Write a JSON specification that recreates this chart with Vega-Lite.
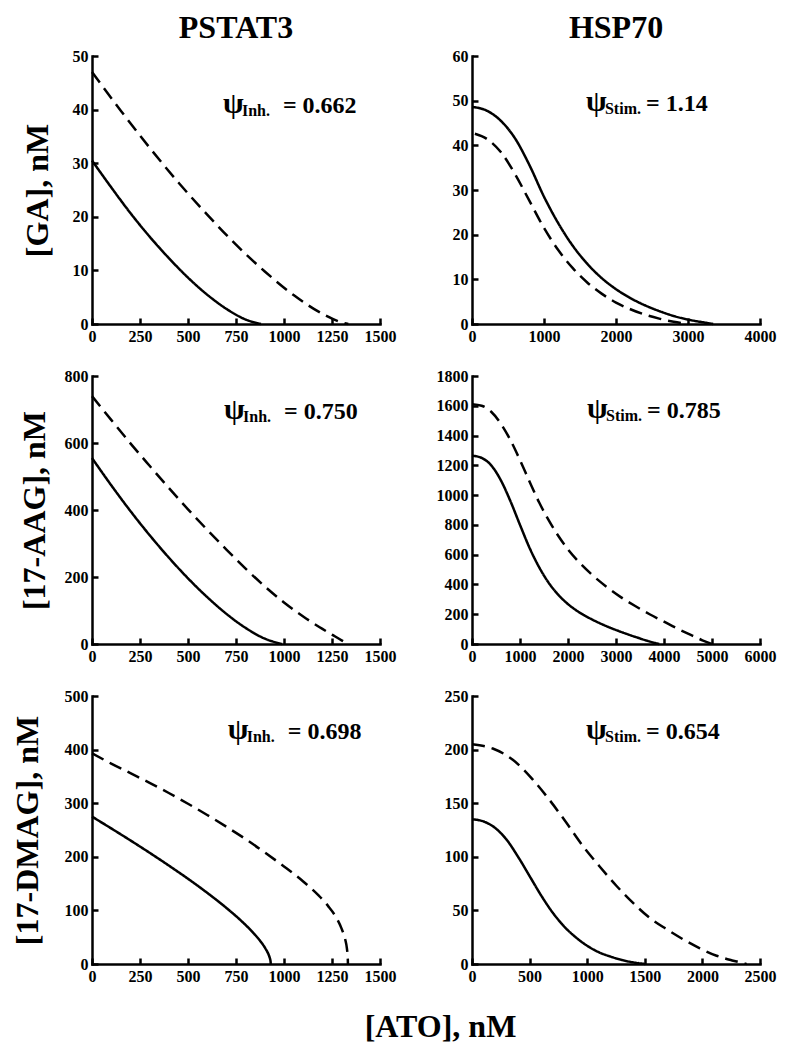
{
  "$schema": "https://vega.github.io/schema/vega-lite/v6.json",
  "padding": {"left": 11, "top": 12, "right": 5, "bottom": 5},
  "background": "white",
  "bounds": "flush",
  "columns": 2,
  "spacing": {"row": 52, "column": 92},
  "title": {"text": "[ATO], nM", "orient": "bottom", "anchor": "middle", "offset": 28, "dx": 47},
  "datasets": {
    "ga_pstat3": [
      {"ato": 0, "conc": 30.5, "series": "S1"}, {"ato": 100, "conc": 25.5, "series": "S1"}, {"ato": 200, "conc": 20.7, "series": "S1"}, {"ato": 300, "conc": 16.3, "series": "S1"}, {"ato": 400, "conc": 12.3, "series": "S1"}, {"ato": 500, "conc": 8.65, "series": "S1"}, {"ato": 600, "conc": 5.47, "series": "S1"}, {"ato": 700, "conc": 2.82, "series": "S1"}, {"ato": 800, "conc": 0.84, "series": "S1"}, {"ato": 880, "conc": 0, "series": "S1"},
      {"ato": 0, "conc": 47, "series": "S2"}, {"ato": 150, "conc": 39.8, "series": "S2"}, {"ato": 300, "conc": 32.9, "series": "S2"}, {"ato": 450, "conc": 26.4, "series": "S2"}, {"ato": 600, "conc": 20.4, "series": "S2"}, {"ato": 750, "conc": 14.8, "series": "S2"}, {"ato": 900, "conc": 9.8, "series": "S2"}, {"ato": 1050, "conc": 5.4, "series": "S2"}, {"ato": 1200, "conc": 1.9, "series": "S2"}, {"ato": 1300, "conc": 0.3, "series": "S2"}, {"ato": 1335, "conc": 0, "series": "S2"}
    ],
    "ga_hsp70": [
      {"ato": 0, "conc": 48.6, "series": "S1"}, {"ato": 200, "conc": 47.8, "series": "S1"}, {"ato": 400, "conc": 45.5, "series": "S1"}, {"ato": 600, "conc": 41.5, "series": "S1"}, {"ato": 800, "conc": 35.5, "series": "S1"}, {"ato": 1000, "conc": 28.5, "series": "S1"}, {"ato": 1200, "conc": 22.5, "series": "S1"}, {"ato": 1400, "conc": 17.5, "series": "S1"}, {"ato": 1600, "conc": 13.5, "series": "S1"}, {"ato": 1800, "conc": 10.3, "series": "S1"}, {"ato": 2000, "conc": 7.8, "series": "S1"}, {"ato": 2200, "conc": 5.8, "series": "S1"}, {"ato": 2400, "conc": 4.2, "series": "S1"}, {"ato": 2600, "conc": 2.9, "series": "S1"}, {"ato": 2800, "conc": 1.8, "series": "S1"}, {"ato": 3000, "conc": 1.0, "series": "S1"}, {"ato": 3200, "conc": 0.4, "series": "S1"}, {"ato": 3350, "conc": 0, "series": "S1"},
      {"ato": 40, "conc": 42.6, "series": "S2"}, {"ato": 200, "conc": 41.5, "series": "S2"}, {"ato": 400, "conc": 38.5, "series": "S2"}, {"ato": 600, "conc": 33.5, "series": "S2"}, {"ato": 800, "conc": 27.5, "series": "S2"}, {"ato": 1000, "conc": 21.5, "series": "S2"}, {"ato": 1200, "conc": 16.5, "series": "S2"}, {"ato": 1400, "conc": 12.5, "series": "S2"}, {"ato": 1600, "conc": 9.3, "series": "S2"}, {"ato": 1800, "conc": 6.8, "series": "S2"}, {"ato": 2000, "conc": 4.8, "series": "S2"}, {"ato": 2200, "conc": 3.3, "series": "S2"}, {"ato": 2400, "conc": 2.1, "series": "S2"}, {"ato": 2600, "conc": 1.2, "series": "S2"}, {"ato": 2800, "conc": 0.5, "series": "S2"}, {"ato": 3000, "conc": 0, "series": "S2"}
    ],
    "aag_pstat3": [
      {"ato": 0, "conc": 555, "series": "S1"}, {"ato": 100, "conc": 474, "series": "S1"}, {"ato": 200, "conc": 397, "series": "S1"}, {"ato": 300, "conc": 325, "series": "S1"}, {"ato": 400, "conc": 258, "series": "S1"}, {"ato": 500, "conc": 196, "series": "S1"}, {"ato": 600, "conc": 140, "series": "S1"}, {"ato": 700, "conc": 90, "series": "S1"}, {"ato": 800, "conc": 48, "series": "S1"}, {"ato": 900, "conc": 16, "series": "S1"}, {"ato": 990, "conc": 0, "series": "S1"},
      {"ato": 0, "conc": 740, "series": "S2"}, {"ato": 100, "conc": 669, "series": "S2"}, {"ato": 200, "conc": 599, "series": "S2"}, {"ato": 300, "conc": 532, "series": "S2"}, {"ato": 400, "conc": 466, "series": "S2"}, {"ato": 500, "conc": 402, "series": "S2"}, {"ato": 600, "conc": 341, "series": "S2"}, {"ato": 700, "conc": 282, "series": "S2"}, {"ato": 800, "conc": 225, "series": "S2"}, {"ato": 900, "conc": 172, "series": "S2"}, {"ato": 1000, "conc": 124, "series": "S2"}, {"ato": 1100, "conc": 82, "series": "S2"}, {"ato": 1200, "conc": 45, "series": "S2"}, {"ato": 1250, "conc": 28, "series": "S2"}, {"ato": 1300, "conc": 11, "series": "S2"}, {"ato": 1335, "conc": 0, "series": "S2"}
    ],
    "aag_hsp70": [
      {"ato": 0, "conc": 1265, "series": "S1"}, {"ato": 200, "conc": 1250, "series": "S1"}, {"ato": 400, "conc": 1200, "series": "S1"}, {"ato": 600, "conc": 1100, "series": "S1"}, {"ato": 800, "conc": 960, "series": "S1"}, {"ato": 1000, "conc": 800, "series": "S1"}, {"ato": 1200, "conc": 645, "series": "S1"}, {"ato": 1400, "conc": 515, "series": "S1"}, {"ato": 1600, "conc": 410, "series": "S1"}, {"ato": 1800, "conc": 330, "series": "S1"}, {"ato": 2000, "conc": 268, "series": "S1"}, {"ato": 2200, "conc": 220, "series": "S1"}, {"ato": 2500, "conc": 165, "series": "S1"}, {"ato": 2800, "conc": 120, "series": "S1"}, {"ato": 3100, "conc": 82, "series": "S1"}, {"ato": 3400, "conc": 48, "series": "S1"}, {"ato": 3700, "conc": 17, "series": "S1"}, {"ato": 3900, "conc": 0, "series": "S1"},
      {"ato": 0, "conc": 1610, "series": "S2"}, {"ato": 200, "conc": 1600, "series": "S2"}, {"ato": 400, "conc": 1560, "series": "S2"}, {"ato": 600, "conc": 1480, "series": "S2"}, {"ato": 800, "conc": 1370, "series": "S2"}, {"ato": 1000, "conc": 1235, "series": "S2"}, {"ato": 1200, "conc": 1090, "series": "S2"}, {"ato": 1400, "conc": 950, "series": "S2"}, {"ato": 1600, "conc": 830, "series": "S2"}, {"ato": 1800, "conc": 725, "series": "S2"}, {"ato": 2000, "conc": 635, "series": "S2"}, {"ato": 2200, "conc": 560, "series": "S2"}, {"ato": 2500, "conc": 465, "series": "S2"}, {"ato": 2800, "conc": 385, "series": "S2"}, {"ato": 3100, "conc": 315, "series": "S2"}, {"ato": 3400, "conc": 255, "series": "S2"}, {"ato": 3700, "conc": 200, "series": "S2"}, {"ato": 4000, "conc": 150, "series": "S2"}, {"ato": 4300, "conc": 100, "series": "S2"}, {"ato": 4600, "conc": 55, "series": "S2"}, {"ato": 4800, "conc": 25, "series": "S2"}, {"ato": 5000, "conc": 0, "series": "S2"}
    ],
    "dmag_pstat3": [
      {"ato": 0, "conc": 275, "series": "S1"}, {"ato": 100, "conc": 253, "series": "S1"}, {"ato": 200, "conc": 230.6, "series": "S1"}, {"ato": 300, "conc": 207.5, "series": "S1"}, {"ato": 400, "conc": 183.7, "series": "S1"}, {"ato": 500, "conc": 159, "series": "S1"}, {"ato": 600, "conc": 132.8, "series": "S1"}, {"ato": 700, "conc": 104.6, "series": "S1"}, {"ato": 780, "conc": 79.6, "series": "S1"}, {"ato": 840, "conc": 58.1, "series": "S1"}, {"ato": 880, "conc": 41.2, "series": "S1"}, {"ato": 905, "conc": 27.9, "series": "S1"}, {"ato": 920, "conc": 17.3, "series": "S1"}, {"ato": 927, "conc": 10.1, "series": "S1"}, {"ato": 930, "conc": 4.9, "series": "S1"}, {"ato": 931, "conc": 0, "series": "S1"},
      {"ato": 0, "conc": 393, "series": "S2"}, {"ato": 100, "conc": 374, "series": "S2"}, {"ato": 200, "conc": 356, "series": "S2"}, {"ato": 300, "conc": 338, "series": "S2"}, {"ato": 400, "conc": 319, "series": "S2"}, {"ato": 500, "conc": 299, "series": "S2"}, {"ato": 600, "conc": 278, "series": "S2"}, {"ato": 700, "conc": 256, "series": "S2"}, {"ato": 800, "conc": 233, "series": "S2"}, {"ato": 900, "conc": 208, "series": "S2"}, {"ato": 1000, "conc": 182, "series": "S2"}, {"ato": 1100, "conc": 154, "series": "S2"}, {"ato": 1180, "conc": 128, "series": "S2"}, {"ato": 1230, "conc": 108, "series": "S2"}, {"ato": 1270, "conc": 88, "series": "S2"}, {"ato": 1300, "conc": 66, "series": "S2"}, {"ato": 1318, "conc": 47, "series": "S2"}, {"ato": 1328, "conc": 28, "series": "S2"}, {"ato": 1332, "conc": 12, "series": "S2"}, {"ato": 1333, "conc": 0, "series": "S2"}
    ],
    "dmag_hsp70": [
      {"ato": 0, "conc": 135, "series": "S1"}, {"ato": 100, "conc": 133, "series": "S1"}, {"ato": 200, "conc": 127, "series": "S1"}, {"ato": 300, "conc": 116, "series": "S1"}, {"ato": 400, "conc": 100, "series": "S1"}, {"ato": 500, "conc": 82, "series": "S1"}, {"ato": 600, "conc": 64, "series": "S1"}, {"ato": 700, "conc": 48, "series": "S1"}, {"ato": 800, "conc": 35, "series": "S1"}, {"ato": 900, "conc": 25, "series": "S1"}, {"ato": 1000, "conc": 17, "series": "S1"}, {"ato": 1100, "conc": 11, "series": "S1"}, {"ato": 1200, "conc": 7, "series": "S1"}, {"ato": 1300, "conc": 3.8, "series": "S1"}, {"ato": 1400, "conc": 1.5, "series": "S1"}, {"ato": 1505, "conc": 0, "series": "S1"},
      {"ato": 0, "conc": 205, "series": "S2"}, {"ato": 180, "conc": 201, "series": "S2"}, {"ato": 354, "conc": 190.5, "series": "S2"}, {"ato": 528, "conc": 172, "series": "S2"}, {"ato": 673, "conc": 153, "series": "S2"}, {"ato": 818, "conc": 132, "series": "S2"}, {"ato": 963, "conc": 110, "series": "S2"}, {"ato": 1108, "conc": 91, "series": "S2"}, {"ato": 1253, "conc": 73, "series": "S2"}, {"ato": 1398, "conc": 57, "series": "S2"}, {"ato": 1543, "conc": 43, "series": "S2"}, {"ato": 1688, "conc": 32.5, "series": "S2"}, {"ato": 1833, "conc": 23, "series": "S2"}, {"ato": 1978, "conc": 14.6, "series": "S2"}, {"ato": 2123, "conc": 7.7, "series": "S2"}, {"ato": 2268, "conc": 3.1, "series": "S2"}, {"ato": 2384, "conc": 0, "series": "S2"}
    ]
  },
  "concat": [
    {
      "width": 288, "height": 268,
      "title": {"text": "PSTAT3", "frame": "group", "anchor": "middle", "offset": 3},
      "layer": [
        {"data": {"name": "ga_pstat3"},
         "mark": {"type": "line", "interpolate": "monotone", "strokeWidth": 2.5, "color": "black"},
         "encoding": {
           "x": {"field": "ato", "type": "quantitative", "scale": {"domain": [0, 1500], "nice": false}, "axis": {"title": null, "values": [0, 250, 500, 750, 1000, 1250, 1500], "tickCount": 20, "format": "d", "labelOverlap": false}},
           "y": {"field": "conc", "type": "quantitative", "scale": {"domain": [0, 50], "nice": false}, "axis": {"title": "[GA], nM", "titlePadding": 18, "values": [0, 10, 20, 30, 40, 50], "tickCount": 20, "format": "d", "labelOverlap": false}},
           "strokeDash": {"field": "series", "type": "nominal", "scale": {"domain": ["S1", "S2"], "range": [[1, 0], [13, 7]]}, "legend": null}}},
        {"data": {"values": [{"ato": 682, "conc": 39.4, "sym": "ψ", "sub": "Inh.", "val": "= 0.662"}]},
         "layer": [
           {"mark": {"type": "text", "align": "left", "baseline": "alphabetic", "fontSize": 30}, "encoding": {"x": {"field": "ato", "type": "quantitative"}, "y": {"field": "conc", "type": "quantitative"}, "text": {"field": "sym"}}},
           {"mark": {"type": "text", "align": "left", "baseline": "alphabetic", "fontSize": 16, "dx": 19, "dy": 3}, "encoding": {"x": {"field": "ato", "type": "quantitative"}, "y": {"field": "conc", "type": "quantitative"}, "text": {"field": "sub"}}},
           {"mark": {"type": "text", "align": "left", "baseline": "alphabetic", "fontSize": 24, "dx": 60}, "encoding": {"x": {"field": "ato", "type": "quantitative"}, "y": {"field": "conc", "type": "quantitative"}, "text": {"field": "val"}}}
         ]}
      ]
    },
    {
      "width": 288, "height": 268,
      "title": {"text": "HSP70", "frame": "group", "anchor": "middle", "offset": 3},
      "layer": [
        {"data": {"name": "ga_hsp70"},
         "mark": {"type": "line", "interpolate": "monotone", "strokeWidth": 2.5, "color": "black"},
         "encoding": {
           "x": {"field": "ato", "type": "quantitative", "scale": {"domain": [0, 4000], "nice": false}, "axis": {"title": null, "values": [0, 1000, 2000, 3000, 4000], "tickCount": 20, "format": "d", "labelOverlap": false}},
           "y": {"field": "conc", "type": "quantitative", "scale": {"domain": [0, 60], "nice": false}, "axis": {"title": null, "values": [0, 10, 20, 30, 40, 50, 60], "tickCount": 20, "format": "d", "labelOverlap": false}},
           "strokeDash": {"field": "series", "type": "nominal", "scale": {"domain": ["S1", "S2"], "range": [[1, 0], [13, 7]]}, "legend": null}}},
        {"data": {"values": [{"ato": 1583, "conc": 47.7, "sym": "ψ", "sub": "Stim.", "val": "= 1.14"}]},
         "layer": [
           {"mark": {"type": "text", "align": "left", "baseline": "alphabetic", "fontSize": 30}, "encoding": {"x": {"field": "ato", "type": "quantitative"}, "y": {"field": "conc", "type": "quantitative"}, "text": {"field": "sym"}}},
           {"mark": {"type": "text", "align": "left", "baseline": "alphabetic", "fontSize": 16, "dx": 19, "dy": 3}, "encoding": {"x": {"field": "ato", "type": "quantitative"}, "y": {"field": "conc", "type": "quantitative"}, "text": {"field": "sub"}}},
           {"mark": {"type": "text", "align": "left", "baseline": "alphabetic", "fontSize": 24, "dx": 60}, "encoding": {"x": {"field": "ato", "type": "quantitative"}, "y": {"field": "conc", "type": "quantitative"}, "text": {"field": "val"}}}
         ]}
      ]
    },
    {
      "width": 288, "height": 268,
      "layer": [
        {"data": {"name": "aag_pstat3"},
         "mark": {"type": "line", "interpolate": "monotone", "strokeWidth": 2.5, "color": "black"},
         "encoding": {
           "x": {"field": "ato", "type": "quantitative", "scale": {"domain": [0, 1500], "nice": false}, "axis": {"title": null, "values": [0, 250, 500, 750, 1000, 1250, 1500], "tickCount": 20, "format": "d", "labelOverlap": false}},
           "y": {"field": "conc", "type": "quantitative", "scale": {"domain": [0, 800], "nice": false}, "axis": {"title": "[17-AAG], nM", "titlePadding": 13, "values": [0, 200, 400, 600, 800], "tickCount": 20, "format": "d", "labelOverlap": false}},
           "strokeDash": {"field": "series", "type": "nominal", "scale": {"domain": ["S1", "S2"], "range": [[1, 0], [13, 7]]}, "legend": null}}},
        {"data": {"values": [{"ato": 688, "conc": 672, "sym": "ψ", "sub": "Inh.", "val": "= 0.750"}]},
         "layer": [
           {"mark": {"type": "text", "align": "left", "baseline": "alphabetic", "fontSize": 30}, "encoding": {"x": {"field": "ato", "type": "quantitative"}, "y": {"field": "conc", "type": "quantitative"}, "text": {"field": "sym"}}},
           {"mark": {"type": "text", "align": "left", "baseline": "alphabetic", "fontSize": 16, "dx": 19, "dy": 3}, "encoding": {"x": {"field": "ato", "type": "quantitative"}, "y": {"field": "conc", "type": "quantitative"}, "text": {"field": "sub"}}},
           {"mark": {"type": "text", "align": "left", "baseline": "alphabetic", "fontSize": 24, "dx": 60}, "encoding": {"x": {"field": "ato", "type": "quantitative"}, "y": {"field": "conc", "type": "quantitative"}, "text": {"field": "val"}}}
         ]}
      ]
    },
    {
      "width": 288, "height": 268,
      "layer": [
        {"data": {"name": "aag_hsp70"},
         "mark": {"type": "line", "interpolate": "monotone", "strokeWidth": 2.5, "color": "black"},
         "encoding": {
           "x": {"field": "ato", "type": "quantitative", "scale": {"domain": [0, 6000], "nice": false}, "axis": {"title": null, "values": [0, 1000, 2000, 3000, 4000, 5000, 6000], "tickCount": 20, "format": "d", "labelOverlap": false}},
           "y": {"field": "conc", "type": "quantitative", "scale": {"domain": [0, 1800], "nice": false}, "axis": {"title": null, "values": [0, 200, 400, 600, 800, 1000, 1200, 1400, 1600, 1800], "tickCount": 20, "format": "d", "labelOverlap": false}},
           "strokeDash": {"field": "series", "type": "nominal", "scale": {"domain": ["S1", "S2"], "range": [[1, 0], [13, 7]]}, "legend": null}}},
        {"data": {"values": [{"ato": 2396, "conc": 1518, "sym": "ψ", "sub": "Stim.", "val": "= 0.785"}]},
         "layer": [
           {"mark": {"type": "text", "align": "left", "baseline": "alphabetic", "fontSize": 30}, "encoding": {"x": {"field": "ato", "type": "quantitative"}, "y": {"field": "conc", "type": "quantitative"}, "text": {"field": "sym"}}},
           {"mark": {"type": "text", "align": "left", "baseline": "alphabetic", "fontSize": 16, "dx": 19, "dy": 3}, "encoding": {"x": {"field": "ato", "type": "quantitative"}, "y": {"field": "conc", "type": "quantitative"}, "text": {"field": "sub"}}},
           {"mark": {"type": "text", "align": "left", "baseline": "alphabetic", "fontSize": 24, "dx": 60}, "encoding": {"x": {"field": "ato", "type": "quantitative"}, "y": {"field": "conc", "type": "quantitative"}, "text": {"field": "val"}}}
         ]}
      ]
    },
    {
      "width": 288, "height": 268,
      "layer": [
        {"data": {"name": "dmag_pstat3"},
         "mark": {"type": "line", "interpolate": "monotone", "strokeWidth": 2.5, "color": "black"},
         "encoding": {
           "x": {"field": "ato", "type": "quantitative", "scale": {"domain": [0, 1500], "nice": false}, "axis": {"title": null, "values": [0, 250, 500, 750, 1000, 1250, 1500], "tickCount": 20, "format": "d", "labelOverlap": false}},
           "y": {"field": "conc", "type": "quantitative", "scale": {"domain": [0, 500], "nice": false}, "axis": {"title": "[17-DMAG], nM", "titlePadding": 20, "values": [0, 100, 200, 300, 400, 500], "tickCount": 20, "format": "d", "labelOverlap": false}},
           "strokeDash": {"field": "series", "type": "nominal", "scale": {"domain": ["S1", "S2"], "range": [[1, 0], [13, 7]]}, "legend": null}}},
        {"data": {"values": [{"ato": 707, "conc": 419, "sym": "ψ", "sub": "Inh.", "val": "= 0.698"}]},
         "layer": [
           {"mark": {"type": "text", "align": "left", "baseline": "alphabetic", "fontSize": 30}, "encoding": {"x": {"field": "ato", "type": "quantitative"}, "y": {"field": "conc", "type": "quantitative"}, "text": {"field": "sym"}}},
           {"mark": {"type": "text", "align": "left", "baseline": "alphabetic", "fontSize": 16, "dx": 19, "dy": 3}, "encoding": {"x": {"field": "ato", "type": "quantitative"}, "y": {"field": "conc", "type": "quantitative"}, "text": {"field": "sub"}}},
           {"mark": {"type": "text", "align": "left", "baseline": "alphabetic", "fontSize": 24, "dx": 60}, "encoding": {"x": {"field": "ato", "type": "quantitative"}, "y": {"field": "conc", "type": "quantitative"}, "text": {"field": "val"}}}
         ]}
      ]
    },
    {
      "width": 288, "height": 268,
      "layer": [
        {"data": {"name": "dmag_hsp70"},
         "mark": {"type": "line", "interpolate": "monotone", "strokeWidth": 2.5, "color": "black"},
         "encoding": {
           "x": {"field": "ato", "type": "quantitative", "scale": {"domain": [0, 2500], "nice": false}, "axis": {"title": null, "values": [0, 500, 1000, 1500, 2000, 2500], "tickCount": 20, "format": "d", "labelOverlap": false}},
           "y": {"field": "conc", "type": "quantitative", "scale": {"domain": [0, 250], "nice": false}, "axis": {"title": null, "values": [0, 50, 100, 150, 200, 250], "tickCount": 20, "format": "d", "labelOverlap": false}},
           "strokeDash": {"field": "series", "type": "nominal", "scale": {"domain": ["S1", "S2"], "range": [[1, 0], [13, 7]]}, "legend": null}}},
        {"data": {"values": [{"ato": 990, "conc": 209.6, "sym": "ψ", "sub": "Stim.", "val": "= 0.654"}]},
         "layer": [
           {"mark": {"type": "text", "align": "left", "baseline": "alphabetic", "fontSize": 30}, "encoding": {"x": {"field": "ato", "type": "quantitative"}, "y": {"field": "conc", "type": "quantitative"}, "text": {"field": "sym"}}},
           {"mark": {"type": "text", "align": "left", "baseline": "alphabetic", "fontSize": 16, "dx": 19, "dy": 3}, "encoding": {"x": {"field": "ato", "type": "quantitative"}, "y": {"field": "conc", "type": "quantitative"}, "text": {"field": "sub"}}},
           {"mark": {"type": "text", "align": "left", "baseline": "alphabetic", "fontSize": 24, "dx": 60}, "encoding": {"x": {"field": "ato", "type": "quantitative"}, "y": {"field": "conc", "type": "quantitative"}, "text": {"field": "val"}}}
         ]}
      ]
    }
  ],
  "config": {
    "view": {"stroke": null},
    "font": "Liberation Serif",
    "axis": {"grid": false, "domainColor": "black", "domainWidth": 2.5, "domainCap": "square", "tickColor": "black", "tickWidth": 2.5, "tickSize": -6, "labelFont": "Liberation Serif", "labelFontSize": 16, "labelFontWeight": "bold", "labelColor": "black", "labelPadding": 10, "labelFlush": false, "labelOverlap": false, "titleFont": "Liberation Serif", "titleFontSize": 32, "titleFontWeight": "bold", "titleColor": "black"},
    "title": {"font": "Liberation Serif", "fontSize": 32, "fontWeight": "bold", "color": "black"},
    "text": {"font": "Liberation Serif", "color": "black", "fontWeight": "bold"}
  }
}
